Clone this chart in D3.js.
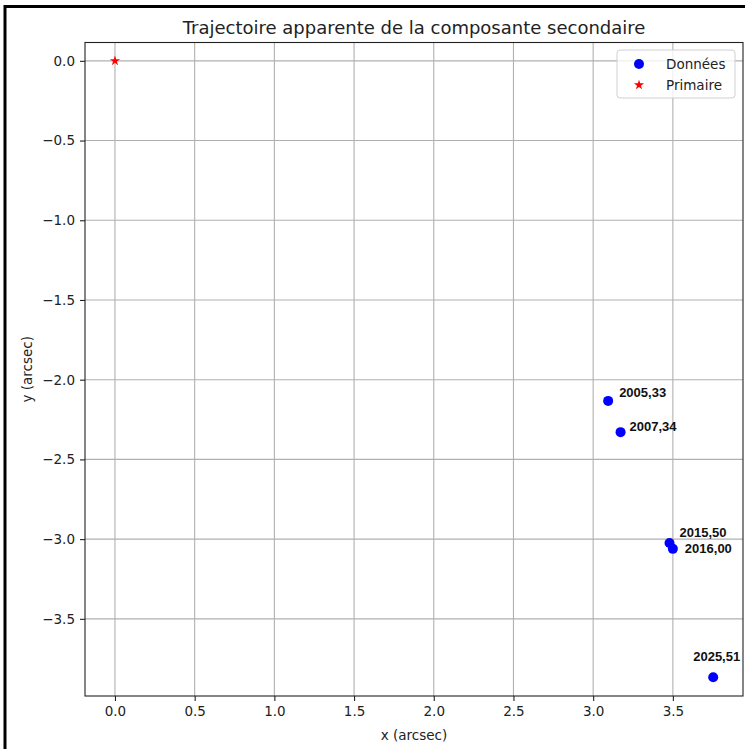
<!DOCTYPE html>
<html>
<head>
<meta charset="utf-8">
<script src="https://cdn.jsdelivr.net/npm/d3@7"></script>
<style>
  html, body { margin: 0; padding: 0; background: #fff; }
  svg { display: block; font-family: "DejaVu Sans", sans-serif; }
</style>
</head>
<body>
<div id="chart"></div>
<script>
// NOTE: data
const epochs = ['2005,33', '2007,34', '2015,50', '2016,00', '2025,51'];
const xValues = [3.094, 3.172, 3.479, 3.500, 3.753];
const yValues = [-2.133, -2.329, -3.024, -3.061, -3.866];
const primary = [0, 0];
const xTicks = [0.0, 0.5, 1.0, 1.5, 2.0, 2.5, 3.0, 3.5];
const yTicks = [0.0, -0.5, -1.0, -1.5, -2.0, -2.5, -3.0, -3.5];
const legendLabels = ['Données', 'Primaire'];

// NOTE: layout
const width = 745;
const height = 749;
const margin = { top: 42.5, right: 2, bottom: 53, left: 85 };
// label offsets (dx, dy to baseline) per annotation
const labelOffsets = [[11, -4], [9, -1], [10, -6], [12, 4], [-20, -16]];

const svg = d3.select('#chart')
  .append('svg')
  .attr('width', width)
  .attr('height', height);

const x = d3.scaleLinear()
  .domain([-0.188, 3.94])
  .range([margin.left, width - margin.right]);
const y = d3.scaleLinear()
  .domain([-3.984, 0.115])
  .range([height - margin.bottom, margin.top]);

const fmt = d3.format('.1f');

// grid
svg.append('g')
  .selectAll('line')
  .data(xTicks)
  .join('line')
  .attr('x1', (d) => x(d)).attr('x2', (d) => x(d))
  .attr('y1', margin.top).attr('y2', height - margin.bottom)
  .attr('stroke', '#b0b0b0').attr('stroke-width', 1.1);
svg.append('g')
  .selectAll('line')
  .data(yTicks)
  .join('line')
  .attr('y1', (d) => y(d)).attr('y2', (d) => y(d))
  .attr('x1', margin.left).attr('x2', width - margin.right)
  .attr('stroke', '#b0b0b0').attr('stroke-width', 1.1);

// axes
const xAxis = svg.append('g')
  .attr('transform', `translate(0,${height - margin.bottom})`)
  .call(d3.axisBottom(x).tickValues(xTicks).tickFormat(fmt).tickSize(5).tickPadding(5));
const yAxis = svg.append('g')
  .attr('transform', `translate(${margin.left},0)`)
  .call(d3.axisLeft(y).tickValues(yTicks).tickFormat(fmt).tickSize(5).tickPadding(5));
for (const ax of [xAxis, yAxis]) {
  ax.select('.domain').remove();
  ax.selectAll('text').attr('font-family', '"DejaVu Sans", sans-serif').attr('font-size', 13.5).attr('fill', '#222');
  ax.selectAll('line').attr('stroke', '#222').attr('stroke-width', 1.1);
}

// spines
svg.append('rect')
  .attr('x', margin.left)
  .attr('y', margin.top)
  .attr('width', width - margin.left - margin.right)
  .attr('height', height - margin.top - margin.bottom)
  .attr('fill', 'none')
  .attr('stroke', '#222')
  .attr('stroke-width', 1.1);

// data points
svg.append('g')
  .selectAll('circle')
  .data(epochs)
  .join('circle')
  .attr('cx', (d, i) => x(xValues[i]))
  .attr('cy', (d, i) => y(yValues[i]))
  .attr('r', 5)
  .attr('fill', '#0000ff');

// primary star
const star = d3.symbol().type(d3.symbolStar).size(32);
svg.append('path')
  .attr('d', star())
  .attr('transform', `translate(${x(primary[0])},${y(primary[1])})`)
  .attr('fill', '#ff0000');

// annotations
svg.append('g')
  .selectAll('text')
  .data(epochs)
  .join('text')
  .attr('x', (d, i) => x(xValues[i]) + labelOffsets[i][0])
  .attr('y', (d, i) => y(yValues[i]) + labelOffsets[i][1])
  .attr('font-family', '"Liberation Sans", Arial, sans-serif')
  .attr('font-weight', 'bold')
  .attr('font-size', 13)
  .attr('fill', '#111')
  .text((d) => d);

// legend
const legend = svg.append('g').attr('transform', 'translate(617,50)');
legend.append('rect')
  .attr('width', 118).attr('height', 48)
  .attr('rx', 3)
  .attr('fill', '#fff').attr('fill-opacity', 0.8)
  .attr('stroke', '#d0d0d0').attr('stroke-width', 1);
legend.append('circle')
  .attr('cx', 22).attr('cy', 14).attr('r', 5)
  .attr('fill', '#0000ff');
legend.append('path')
  .attr('d', star())
  .attr('transform', 'translate(22,35)')
  .attr('fill', '#ff0000');
legend.selectAll('text')
  .data(legendLabels)
  .join('text')
  .attr('x', 49)
  .attr('y', (d, i) => 19 + i * 21)
  .attr('font-size', 13.5)
  .attr('fill', '#222')
  .text((d) => d);

// labels
svg.append('text')
  .attr('x', (margin.left + width - margin.right) / 2)
  .attr('y', 34)
  .attr('text-anchor', 'middle')
  .attr('font-size', 18)
  .attr('fill', '#222')
  .text('Trajectoire apparente de la composante secondaire');
svg.append('text')
  .attr('x', (margin.left + width - margin.right) / 2)
  .attr('y', 739.5)
  .attr('text-anchor', 'middle')
  .attr('font-size', 13.5)
  .attr('fill', '#222')
  .text('x (arcsec)');
svg.append('text')
  .attr('transform', `translate(31.5,${(margin.top + height - margin.bottom) / 2}) rotate(-90)`)
  .attr('text-anchor', 'middle')
  .attr('font-size', 13.5)
  .attr('fill', '#222')
  .text('y (arcsec)');

// outer frame
svg.append('path')
  .attr('d', `M5,${height} L5,6.5 L${width},6.5`)
  .attr('fill', 'none')
  .attr('stroke', '#000')
  .attr('stroke-width', 3);
</script>
</body>
</html>
